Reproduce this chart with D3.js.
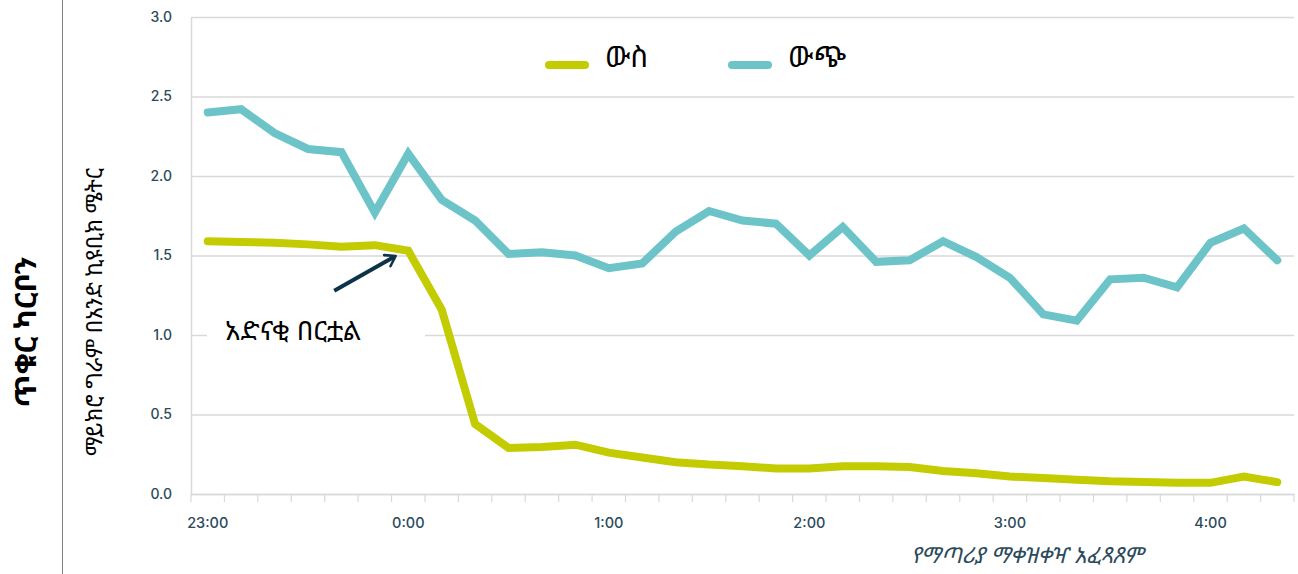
<!DOCTYPE html>
<html>
<head>
<meta charset="utf-8">
<script src="https://cdn.jsdelivr.net/npm/d3@7"></script>
<style>
  body { margin: 0; background: #fff; }
  svg { display: block; }
</style>
</head>
<body>
<svg width="1298" height="574"></svg>
<script>
// chart data
const times = [
  "23:00", "23:10", "23:20", "23:30", "23:40", "23:50",
  "0:00", "0:10", "0:20", "0:30", "0:40", "0:50",
  "1:00", "1:10", "1:20", "1:30", "1:40", "1:50",
  "2:00", "2:10", "2:20", "2:30", "2:40", "2:50",
  "3:00", "3:10", "3:20", "3:30", "3:40", "3:50",
  "4:00", "4:10", "4:20"
];
const inside = [
  1.59, 1.585, 1.58, 1.57, 1.555, 1.565, 1.53, 1.16, 0.44, 0.29, 0.295, 0.31,
  0.26, 0.23, 0.2, 0.185, 0.175, 0.16, 0.16, 0.175, 0.175, 0.17, 0.145, 0.13,
  0.11, 0.1, 0.09, 0.08, 0.075, 0.07, 0.07, 0.11, 0.075
];
const outside = [
  2.4, 2.42, 2.27, 2.17, 2.15, 1.77, 2.14, 1.85, 1.72, 1.51, 1.52, 1.5,
  1.42, 1.45, 1.65, 1.78, 1.72, 1.7, 1.5, 1.68, 1.46, 1.47, 1.59, 1.49,
  1.36, 1.13, 1.09, 1.35, 1.36, 1.3, 1.58, 1.67, 1.47
];
const yTicks = [0, 0.5, 1, 1.5, 2, 2.5, 3];
const hourLabels = ["23:00", "0:00", "1:00", "2:00", "3:00", "4:00"];
const seriesNames = ["ውስ", "ውጭ"];
const colors = ["#c3cc00", "#6cc4c9"];

const svg = d3.select("svg");
const width = +svg.attr("width");
const height = +svg.attr("height");

const margin = { top: 17, right: 4, bottom: 80, left: 191 };
const innerWidth = width - margin.left - margin.right;
const innerHeight = height - margin.top - margin.bottom;

const numFont = "Inter, Lato, sans-serif";
const ethFont = "'Noto Sans Ethiopic', 'Abyssinica SIL', 'DejaVu Sans', serif";
const labelColor = "#2b4a5b";
const gridColor = "#d9d9d9";

const x = d3.scaleBand().domain(times).range([0, innerWidth]).padding(0);
const y = d3.scaleLinear().domain([0, 3]).range([innerHeight, 0]);

// left separator line
svg.append("line")
  .attr("x1", 62.5).attr("x2", 62.5)
  .attr("y1", 0).attr("y2", height)
  .attr("stroke", "#7f7f7f").attr("stroke-width", 1);

// side title
svg.append("text")
  .attr("transform", `translate(36,332) rotate(-90)`)
  .attr("text-anchor", "middle")
  .attr("font-family", ethFont)
  .attr("font-weight", "bold")
  .attr("font-size", 30)
  .attr("fill", "#000")
  .text("ጥቁር ካርቦን");

const g = svg.append("g")
  .attr("transform", `translate(${margin.left},${margin.top})`);

// y axis with gridlines
const yAxis = d3.axisLeft(y)
  .tickValues(yTicks)
  .tickSize(-innerWidth)
  .tickPadding(19)
  .tickFormat(d3.format(".1f"));

const yAxisG = g.append("g").call(yAxis);
yAxisG.select(".domain").remove();
yAxisG.selectAll(".tick line")
  .attr("stroke", gridColor)
  .attr("stroke-width", 1.5);
yAxisG.selectAll(".tick text")
  .attr("font-family", numFont)
  .attr("font-weight", 500)
  .attr("font-size", 14)
  .attr("fill", labelColor);

// left vertical axis line
g.append("line")
  .attr("x1", 0.5).attr("x2", 0.5)
  .attr("y1", 0).attr("y2", innerHeight)
  .attr("stroke", gridColor).attr("stroke-width", 1.5);

// x axis: labels at band centres, only every hour
const xAxis = d3.axisBottom(x)
  .tickValues(hourLabels)
  .tickSize(0)
  .tickPadding(24);

const xAxisG = g.append("g")
  .attr("transform", `translate(0,${innerHeight})`)
  .call(xAxis);
xAxisG.select(".domain")
  .attr("stroke", gridColor)
  .attr("stroke-width", 1.5);
xAxisG.selectAll(".tick text")
  .attr("font-family", numFont)
  .attr("font-weight", 500)
  .attr("font-size", 14.5)
  .attr("fill", labelColor);

// tick marks at band boundaries
const bounds = times.map((d) => x(d)).concat([x.range()[1]]);
xAxisG.selectAll(".bound")
  .data(bounds)
  .enter()
  .append("line")
  .attr("class", "bound")
  .attr("x1", (d) => d).attr("x2", (d) => d)
  .attr("y1", 0).attr("y2", 8)
  .attr("stroke", gridColor)
  .attr("stroke-width", 1.2);

// axis titles
svg.append("text")
  .attr("transform", `translate(102,312) rotate(-90)`)
  .attr("text-anchor", "middle")
  .attr("font-family", ethFont)
  .attr("font-size", 22)
  .attr("fill", "#000")
  .text("ማይክሮ ግራም በአንድ ኪዩቢክ ሜትር");

svg.append("text")
  .attr("x", 1027)
  .attr("y", 563)
  .attr("text-anchor", "middle")
  .attr("font-family", ethFont)
  .attr("font-style", "italic")
  .attr("font-size", 22)
  .attr("fill", labelColor)
  .text("የማጣሪያ ማቀዝቀዣ አፈጻጸም");

// lines
const lineGen = d3.line()
  .x((d, i) => x(times[i]) + x.bandwidth() / 2)
  .y((d) => y(d));

[inside, outside].forEach((values, i) => {
  g.append("path")
    .datum(values)
    .attr("fill", "none")
    .attr("stroke", colors[i])
    .attr("stroke-width", 8)
    .attr("stroke-linejoin", "miter")
    .attr("stroke-linecap", "round")
    .attr("d", lineGen);
});

// legend
const legendX = [549, 732];
seriesNames.forEach((name, i) => {
  const lg = svg.append("g").attr("transform", `translate(${legendX[i]},65)`);
  lg.append("line")
    .attr("x1", 0).attr("x2", 36)
    .attr("y1", 0).attr("y2", 0)
    .attr("stroke", colors[i])
    .attr("stroke-width", 8)
    .attr("stroke-linecap", "round");
  lg.append("text")
    .attr("x", 56)
    .attr("y", 2)
    .attr("font-family", ethFont)
    .attr("font-size", 29)
    .attr("fill", "#000")
    .text(name);
});

// annotation
const fanIdx = times.indexOf("0:00");
const ax = x(times[fanIdx]) + x.bandwidth() / 2;
const ay = y(inside[fanIdx]);

svg.append("defs").append("marker")
  .attr("id", "arrow")
  .attr("viewBox", "0 0 10 10")
  .attr("refX", 6).attr("refY", 5)
  .attr("markerWidth", 4).attr("markerHeight", 4)
  .attr("orient", "auto")
  .append("path")
  .attr("d", "M1,1 L7,5 L1,9")
  .attr("fill", "none")
  .attr("stroke", "#0d3349")
  .attr("stroke-width", 1.6)
  .attr("stroke-linecap", "round")
  .attr("stroke-linejoin", "round");

g.append("line")
  .attr("x1", ax - 74).attr("x2", ax - 14)
  .attr("y1", ay + 40).attr("y2", ay + 6)
  .attr("stroke", "#0d3349")
  .attr("stroke-width", 4)
  .attr("marker-end", "url(#arrow)");

g.append("rect")
  .attr("x", 16).attr("y", y(1) - 18)
  .attr("width", 218).attr("height", 34)
  .attr("fill", "#fff");

g.append("text")
  .attr("x", 34)
  .attr("y", y(1) + 5)
  .attr("font-family", ethFont)
  .attr("font-size", 27)
  .attr("fill", "#000")
  .text("አድናቂ በርቷል");
</script>
</body>
</html>
